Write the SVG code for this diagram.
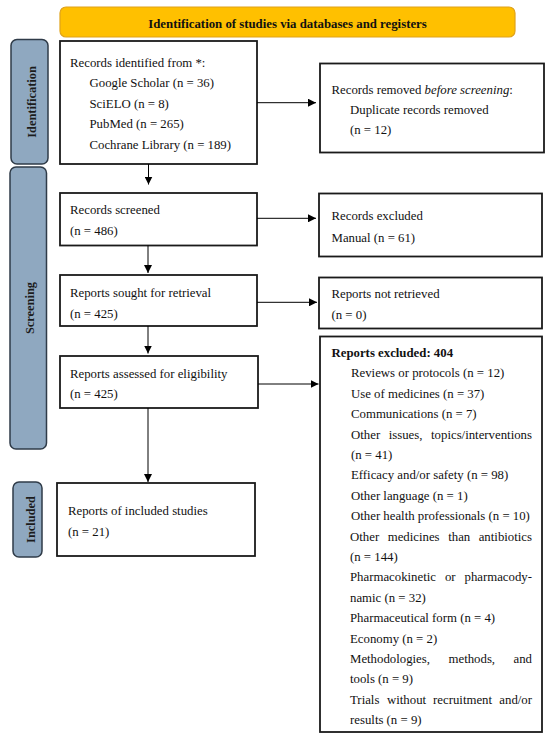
<svg xmlns="http://www.w3.org/2000/svg" width="550" height="743" viewBox="0 0 550 743">
<defs>
<marker id="ah" viewBox="0 0 10 10" refX="10" refY="5" markerWidth="8" markerHeight="8" markerUnits="userSpaceOnUse" orient="auto">
<path d="M0,0 L10,5 L0,10 z" fill="#000"/>
</marker>
<style>
.box{fill:#fff;stroke:#1a1a1a;stroke-width:1.8}
.side{fill:#8fa8c0;stroke:#2f3b48;stroke-width:1.5}
.t{font-family:"Liberation Serif","Times New Roman",serif;font-size:12.8px;fill:#111}
.b{font-weight:bold}
.e{text-anchor:end}
.sl{font-family:"Liberation Serif","Times New Roman",serif;font-size:12.4px;font-weight:bold;fill:#1c1c1c;text-anchor:middle}
.c{stroke:#000;stroke-width:1;fill:none;marker-end:url(#ah)}
</style>
</defs>
<rect width="550" height="743" fill="#fff"/>

<g id="banner">
<rect x="60" y="7" width="455" height="30" rx="6" fill="#ffc000" stroke="#e0a21a" stroke-width="1.2"/>
<text class="t b" x="287.5" y="28" text-anchor="middle" font-size="12.6px">Identification of studies via databases and registers</text>
</g>

<g id="side-identification">
<rect class="side" x="11" y="39.5" width="37" height="124.5" rx="6"/>
<text class="sl" transform="translate(35.5,102) rotate(-90)">Identification</text>
</g>
<g id="side-screening">
<rect class="side" x="10" y="167" width="36.5" height="282" rx="6"/>
<text class="sl" transform="translate(33.5,308) rotate(-90)">Screening</text>
</g>
<g id="side-included">
<rect class="side" x="13" y="482" width="29" height="75" rx="6"/>
<text class="sl" transform="translate(34.5,519.5) rotate(-90)">Included</text>
</g>

<g id="records-identified">
<rect class="box" x="60" y="41" width="197" height="123"/>
<text class="t" x="70" y="67">Records identified from *:</text>
<text class="t" x="89.5" y="87.4">Google Scholar (n = 36)</text>
<text class="t" x="89.5" y="107.8">SciELO (n = 8)</text>
<text class="t" x="89.5" y="128.2">PubMed (n = 265)</text>
<text class="t" x="89.5" y="148.6">Cochrane Library (n = 189)</text>
</g>

<g id="records-removed">
<rect class="box" x="320" y="63.5" width="224" height="89"/>
<text class="t" x="331.5" y="93.5">Records removed <tspan font-style="italic">before screening</tspan>:</text>
<text class="t" x="350" y="113.5">Duplicate records removed</text>
<text class="t" x="350" y="133.5">(n = 12)</text>
</g>

<g id="records-screened">
<rect class="box" x="60" y="193" width="197" height="52.5"/>
<text class="t" x="70" y="214">Records screened</text>
<text class="t" x="70" y="235">(n = 486)</text>
</g>

<g id="records-excluded">
<rect class="box" x="319" y="193.5" width="223" height="63"/>
<text class="t" x="331.5" y="220">Records excluded</text>
<text class="t" x="331.5" y="241.5">Manual (n = 61)</text>
</g>

<g id="reports-sought">
<rect class="box" x="60" y="275" width="197" height="51"/>
<text class="t" x="70" y="296.5">Reports sought for retrieval</text>
<text class="t" x="70" y="317.5">(n = 425)</text>
</g>

<g id="reports-not-retrieved">
<rect class="box" x="319" y="277.5" width="223" height="51"/>
<text class="t" x="331.5" y="298">Reports not retrieved</text>
<text class="t" x="331.5" y="318.5">(n = 0)</text>
</g>

<g id="reports-assessed">
<rect class="box" x="60" y="356" width="198" height="52"/>
<text class="t" x="70" y="377.5">Reports assessed for eligibility</text>
<text class="t" x="70" y="397.5">(n = 425)</text>
</g>

<g id="reports-excluded">
<rect class="box" x="320" y="336.5" width="222" height="395.5"/>
<text class="t b" x="331.5" y="357" font-size="12.5px">Reports excluded: 404</text>
<text class="t" x="351" y="377.4">Reviews or protocols (n = 12)</text>
<text class="t" x="351" y="397.8">Use of medicines (n = 37)</text>
<text class="t" x="351" y="418.2">Communications (n = 7)</text>
<text class="t" x="351" y="438.6">Other</text>
<text class="t" x="388.7" y="438.6">issues,</text>
<text class="t e" x="532" y="438.6">topics/interventions</text>
<text class="t" x="351" y="459">(n = 41)</text>
<text class="t" x="351" y="479.4">Efficacy and/or safety (n = 98)</text>
<text class="t" x="351" y="499.8">Other language (n = 1)</text>
<text class="t" x="351" y="520.2">Other health professionals (n = 10)</text>
<text class="t" x="350" y="540.6">Other</text>
<text class="t" x="387.7" y="540.6">medicines</text>
<text class="t" x="448.2" y="540.6">than</text>
<text class="t e" x="532" y="540.6">antibiotics</text>
<text class="t" x="350" y="561">(n = 144)</text>
<text class="t" x="350" y="581.4">Pharmacokinetic</text>
<text class="t" x="444.9" y="581.4">or</text>
<text class="t e" x="532" y="581.4">pharmacody-</text>
<text class="t" x="350" y="601.8">namic (n = 32)</text>
<text class="t" x="350" y="622.2">Pharmaceutical form (n = 4)</text>
<text class="t" x="350" y="642.6">Economy (n = 2)</text>
<text class="t" x="350" y="663">Methodologies,</text>
<text class="t" x="448.5" y="663">methods,</text>
<text class="t e" x="532" y="663">and</text>
<text class="t" x="350" y="683.4">tools (n = 9)</text>
<text class="t" x="350" y="703.8">Trials</text>
<text class="t" x="387" y="703.8">without</text>
<text class="t" x="433.1" y="703.8">recruitment</text>
<text class="t e" x="532" y="703.8">and/or</text>
<text class="t" x="350" y="724.2">results (n = 9)</text>
</g>

<g id="reports-included">
<rect class="box" x="57" y="483" width="198" height="73"/>
<text class="t" x="68" y="515">Reports of included studies</text>
<text class="t" x="68" y="536">(n = 21)</text>
</g>

<g id="connectors">
<path class="c" d="M257,102.7 H316"/>
<path class="c" d="M148.5,164 V184.5"/>
<path class="c" d="M257,218.3 H316"/>
<path class="c" d="M148,245.5 V273"/>
<path class="c" d="M257,302.3 H317"/>
<path class="c" d="M148,326 V353.5"/>
<path class="c" d="M258,384 H318.5"/>
<path class="c" d="M148,408 V482"/>
</g>
</svg>
